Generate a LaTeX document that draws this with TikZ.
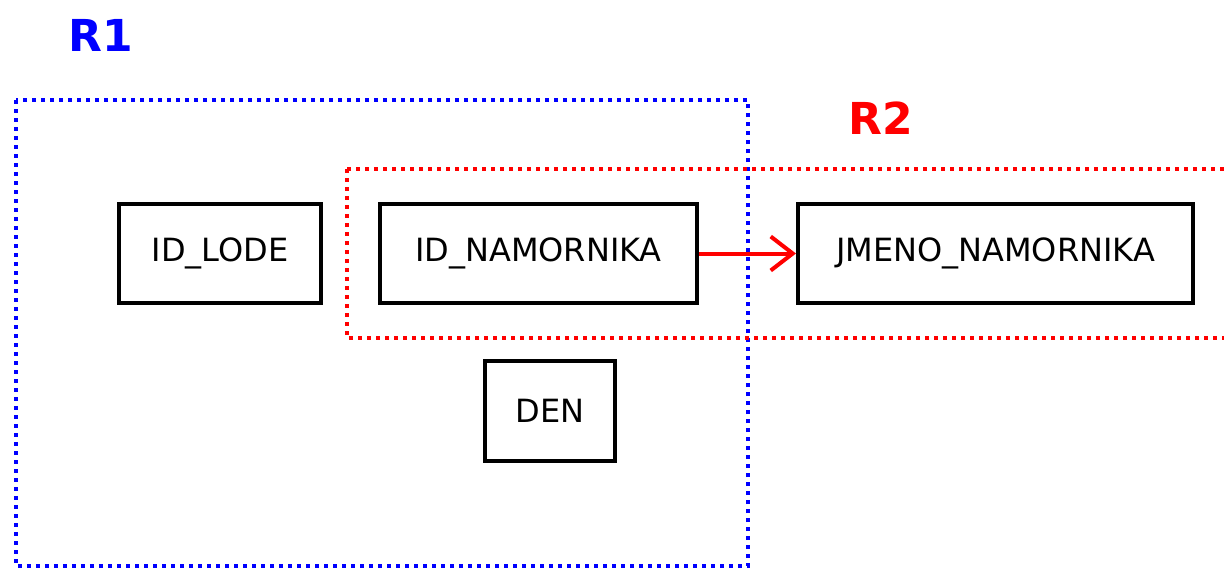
\documentclass[tikz,border=0pt]{standalone}
\usepackage{fontspec}
\setmainfont{DejaVu Sans}
\usetikzlibrary{arrows.meta}
\tikzset{
  attr/.style={draw=black, line width=2pt, inner sep=0pt, font=\fontsize{16}{18}\selectfont},
  relbox/.style={line width=1.9pt, dash pattern=on 1.9pt off 2.6pt},
  rellabel/.style={font=\bfseries\fontsize{22}{26}\selectfont},
  fd/.style={draw=red, line width=2pt, -{Straight Barb[length=11pt, width=17pt, line width=2pt]}}
}
\begin{document}
\begin{tikzpicture}[x=0.5pt, y=-0.5pt]
  \useasboundingbox (0,0) rectangle (1224,568);
  % relation frames
  \draw[relbox, blue] (16,100) rectangle (748,566);
  \draw[relbox, red] (347,169) -- (1230,169) (347,169) -- (347,338) -- (1230,338);
  \node[rellabel, text=blue] (r1) at (101,35) {R1};
  \node[rellabel, text=red] (r2) at (881,118) {R2};
  % attributes
  \node[attr, minimum width=101pt, minimum height=49.5pt] (lode) at (220,253.5) {ID\_LODE};
  \node[attr, minimum width=158.5pt, minimum height=49.5pt] (nam) at (538.5,253.5) {ID\_NAMORNIKA};
  \node[attr, minimum width=197.5pt, minimum height=49.5pt] (jmeno) at (995.5,253.5) {JMENO\_NAMORNIKA};
  \node[attr, minimum width=65pt, minimum height=50pt] (den) at (550,411) {DEN};
  % functional dependency
  \draw[fd] (nam.east) -- (jmeno.west);
\end{tikzpicture}
\end{document}
